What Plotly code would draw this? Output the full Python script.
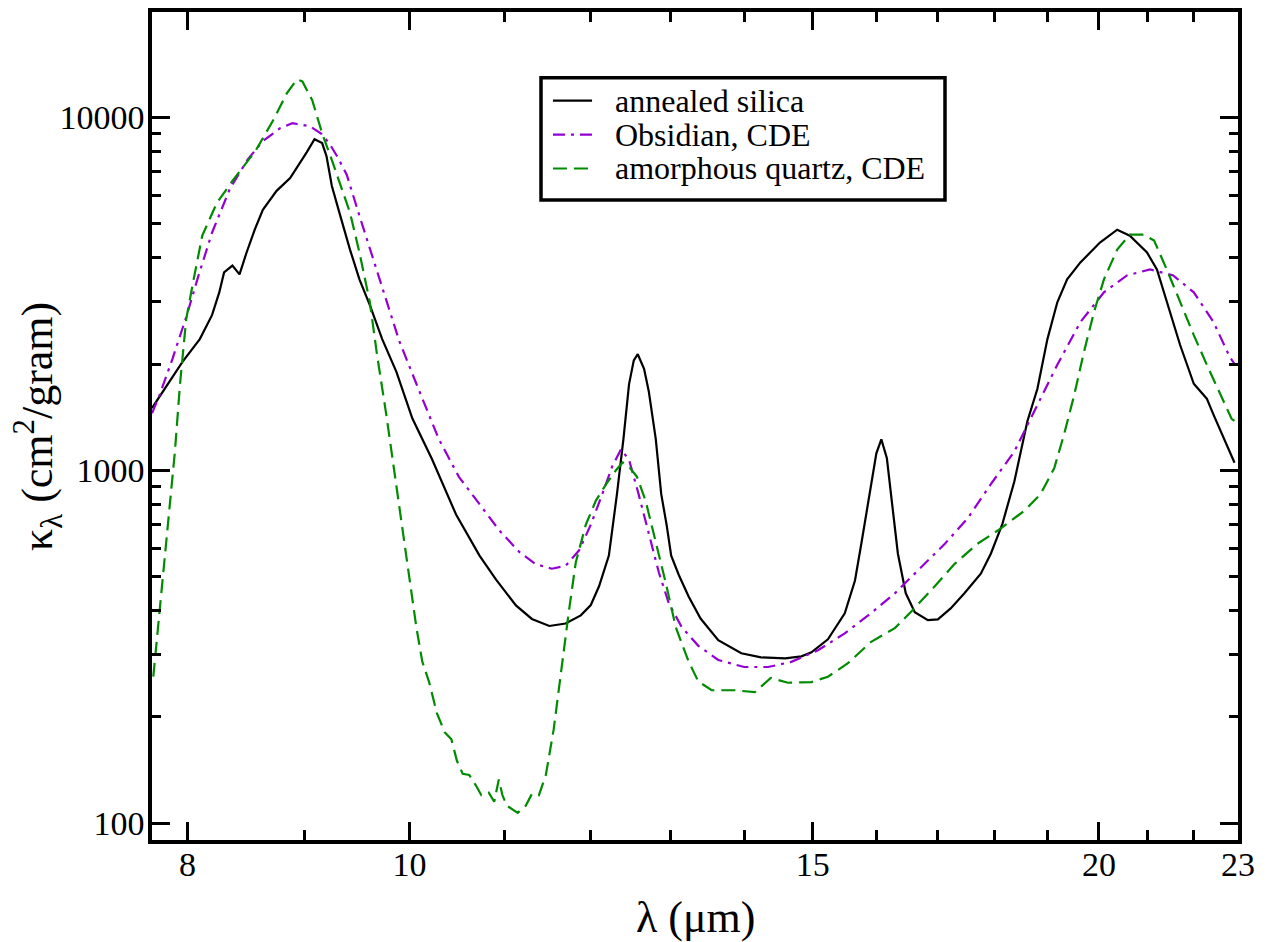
import math
import plotly.graph_objects as go

# ---- data ----
lam_silica = [7.72, 7.83, 7.96, 8.10, 8.20, 8.26, 8.30, 8.37, 8.43, 8.49, 8.56, 8.63, 8.75, 8.87, 8.96,
              9.02, 9.09, 9.16, 9.20, 9.25, 9.32, 9.42, 9.51, 9.61, 9.73, 9.87, 10.03, 10.23, 10.48, 10.73,
              10.91, 11.13, 11.31, 11.51, 11.70, 11.88, 12.00, 12.10, 12.22, 12.32, 12.40, 12.47, 12.53, 12.58,
              12.66, 12.72, 12.81, 12.88, 12.95, 13.01, 13.11, 13.24, 13.40, 13.64, 13.96, 14.24, 14.59, 14.83,
              14.98, 15.23, 15.49, 15.65, 15.75, 15.86, 15.99, 16.07, 16.16, 16.24, 16.34, 16.47, 16.62, 16.84,
              17.01, 17.23, 17.47, 17.76, 17.94, 18.15, 18.37, 18.61, 18.80, 18.99, 19.18, 19.37, 19.63, 20.02,
              20.37, 20.63, 20.99, 21.20, 21.41, 21.70, 22.00, 22.29, 22.44, 22.67, 22.92]
kappa_silica = [1500, 1725, 2028, 2353, 2750, 3190, 3635, 3800, 3590, 4140, 4805, 5470, 6190, 6730, 7420,
                7970, 8670, 8450, 7765, 6390, 5370, 4220, 3474, 2935, 2353, 1900, 1401, 1074, 749, 573,
                490, 414, 379, 362, 368, 388, 415, 469, 573, 857, 1225, 1751, 2048, 2132,
                1938, 1675, 1225, 857, 701, 573, 505, 439, 380, 330, 303, 295, 293, 297,
                305, 332, 393, 487, 619, 818, 1117, 1223, 1081, 818, 580, 448, 396, 376,
                378, 406, 448, 509, 580, 705, 931, 1374, 1702, 2353, 2992, 3474, 3880, 4416,
                4805, 4620, 4140, 3707, 2992, 2264, 1758, 1595, 1438, 1231, 1050]

lam_obsidian = [7.72, 7.78, 7.88, 7.99, 8.09, 8.20, 8.35, 8.50, 8.63, 8.78, 8.89, 9.05, 9.15, 9.23, 9.31,
                9.39, 9.51, 9.64, 9.77, 9.90, 10.07, 10.20, 10.30, 10.51, 10.73, 10.94, 11.17, 11.35, 11.54,
                11.70, 11.86, 12.00, 12.14, 12.26, 12.37, 12.47, 12.59, 12.72, 12.85, 12.98, 13.15, 13.37,
                13.64, 14.00, 14.34, 14.67, 15.08, 15.49, 15.90, 16.29, 16.67, 17.13, 17.53, 17.94, 18.37,
                18.74, 19.18, 19.63, 20.10, 20.57, 21.05, 21.55, 22.00, 22.44, 22.81, 22.92]
kappa_obsidian = [1450, 1637, 2066, 2716, 3565, 4710, 6290, 7600, 8560, 9310, 9620, 9430, 9000, 8400, 7650,
                  6865, 5260, 4005, 3030, 2316, 1758, 1438, 1225, 958, 801, 678, 586, 542, 526,
                  536, 593, 701, 857, 1024, 1146, 1071, 857, 656, 513, 419, 359, 318,
                  290, 277, 277, 286, 309, 345, 393, 448, 519, 619, 732, 913, 1131,
                  1466, 1990, 2630, 3192, 3565, 3707, 3565, 3192, 2630, 2094, 2000]

lam_quartz = [7.73, 7.81, 7.90, 7.94, 7.99, 8.05, 8.12, 8.24, 8.37, 8.57, 8.72, 8.84, 8.93, 8.98, 9.07,
              9.16, 9.25, 9.42, 9.51, 9.61, 9.68, 9.77, 9.90, 10.00, 10.07, 10.13, 10.20, 10.28, 10.36,
              10.43, 10.49, 10.55, 10.62, 10.69, 10.75, 10.83, 10.89, 10.94, 10.98, 11.03, 11.15, 11.24,
              11.31, 11.39, 11.47, 11.56, 11.66, 11.74, 11.82, 11.94, 12.06, 12.19, 12.31, 12.39, 12.47,
              12.57, 12.68, 12.81, 12.94, 13.07, 13.24, 13.37, 13.55, 13.87, 14.15, 14.38, 14.63, 14.98,
              15.23, 15.54, 15.90, 16.29, 16.55, 16.89, 17.30, 17.70, 18.11, 18.55, 18.86, 19.12, 19.31,
              19.51, 19.70, 19.90, 20.10, 20.37, 20.63, 20.92, 21.14, 21.41, 21.70, 22.00, 22.29, 22.60,
              22.85, 22.92]
kappa_quartz = [260, 530, 1131, 1747, 2680, 3474, 4620, 5720, 6600, 8070, 9810, 11690, 12800, 12640, 11160,
                9010, 7565, 5370, 4140, 2992, 2121, 1438, 784, 501, 359, 287, 251, 205, 181,
                173, 150, 138, 137, 128, 120, 122, 115, 133, 120, 112, 107, 112,
                121, 120, 137, 184, 287, 401, 548, 701, 819, 916, 1002, 1052, 1024,
                958, 819, 627, 479, 359, 287, 252, 238, 238, 235, 258, 250, 251,
                260, 284, 326, 357, 396, 456, 543, 619, 682, 767, 856, 1013, 1263,
                1637, 2163, 2806, 3474, 4220, 4652, 4652, 4475, 3707, 2992, 2415, 1990, 1637,
                1401, 1380]

names = ["annealed silica", "Obsidian, CDE", "amorphous quartz, CDE"]

x_tick_vals = [8, 10, 15, 20, 23]
x_tick_text = ["8", "10", "15", "20", "23"]
x_minor_vals = [9, 11, 12, 13, 14, 16, 17, 18, 19, 21, 22]
y_tick_vals = [100, 1000, 10000]
y_tick_text = ["100", "1000", "10000"]
y_minor_vals = [200, 300, 400, 500, 600, 700, 800, 900,
                2000, 3000, 4000, 5000, 6000, 7000, 8000, 9000]

x_range = [7.72, 23.0]
y_range = [89.6, 19880]

FONT = "Liberation Serif"
colors = ["black", "#9400D3", "#008B00"]
dashes = ["solid", "12px,6px,3px,6px", "14px,7px"]

fig = go.Figure()
for lam, kap, name, col, dsh in zip([lam_silica, lam_obsidian, lam_quartz],
                                    [kappa_silica, kappa_obsidian, kappa_quartz],
                                    names, colors, dashes):
    fig.add_trace(go.Scatter(x=lam, y=kap, mode="lines", name=name, showlegend=False,
                             line=dict(color=col, width=2.2, dash=dsh)))

axis_common = dict(
    showline=True, linewidth=3.5, linecolor="black", mirror="ticks",
    ticks="inside", ticklen=18, tickwidth=3, tickcolor="black",
    showgrid=False, zeroline=False,
    tickfont=dict(family=FONT, size=34, color="black"),
)
x_log_range = [math.log10(x_range[0]), math.log10(x_range[1])]

fig.update_layout(
    xaxis=dict(type="log", range=x_log_range,
               tickmode="array", tickvals=x_tick_vals, ticktext=x_tick_text,
               minor=dict(tickmode="array", tickvals=x_minor_vals, ticks="inside", ticklen=10,
                          tickwidth=3, tickcolor="black", showgrid=False),
               ticklabelstandoff=-9, **axis_common),
    yaxis=dict(type="log", range=[math.log10(y_range[0]), math.log10(y_range[1])],
               tickmode="array", tickvals=y_tick_vals, ticktext=y_tick_text,
               minor=dict(tickmode="array", tickvals=y_minor_vals, ticks="inside", ticklen=9,
                          tickwidth=2.5, tickcolor="black", showgrid=False),
               ticklabelstandoff=-3, **axis_common),
)

# ---- legend box (drawn in paper coordinates) ----
leg_x0, leg_x1, leg_y0, leg_y1 = 0.3582, 0.7302, 0.7728, 0.9207
row_y = [0.8930, 0.8520, 0.8110]
sample_x0, sample_x1, text_x = 0.3692, 0.4052, 0.4245

shapes = [dict(type="rect", xref="paper", yref="paper", x0=leg_x0, x1=leg_x1, y0=leg_y0, y1=leg_y1,
               line=dict(color="black", width=3.5), fillcolor="white", layer="above")]
annotations = []
for name, col, dsh, ry in zip(names, colors, dashes, row_y):
    shapes.append(dict(type="line", xref="paper", yref="paper", x0=sample_x0, x1=sample_x1,
                       y0=ry, y1=ry, line=dict(color=col, width=2.2, dash=dsh), layer="above"))
    annotations.append(dict(text=name, xref="paper", yref="paper", x=text_x, y=ry,
                            xanchor="left", yanchor="middle", showarrow=False,
                            font=dict(family=FONT, size=32, color="black")))

annotations += [
    dict(text="λ (μm)", xref="paper", yref="paper", x=0.5, y=-0.094,
         xanchor="center", yanchor="middle", showarrow=False,
         font=dict(family=FONT, size=44, color="black")),
    dict(text="κ<sub>λ</sub> (cm<sup>2</sup>/gram)", xref="paper", yref="paper",
         x=-0.105, y=0.5, xanchor="center", yanchor="middle", textangle=-90,
         showarrow=False, font=dict(family=FONT, size=44, color="black")),
]

fig.update_layout(
    width=1270, height=942,
    margin=dict(l=152, r=32, t=8, b=102),
    paper_bgcolor="white", plot_bgcolor="white",
    font=dict(family=FONT, color="black", size=30),
    showlegend=False,
    shapes=shapes,
    annotations=annotations,
)

fig.write_html("out.html", config={"displayModeBar": False},
               post_script="document.body.style.margin='0';")
